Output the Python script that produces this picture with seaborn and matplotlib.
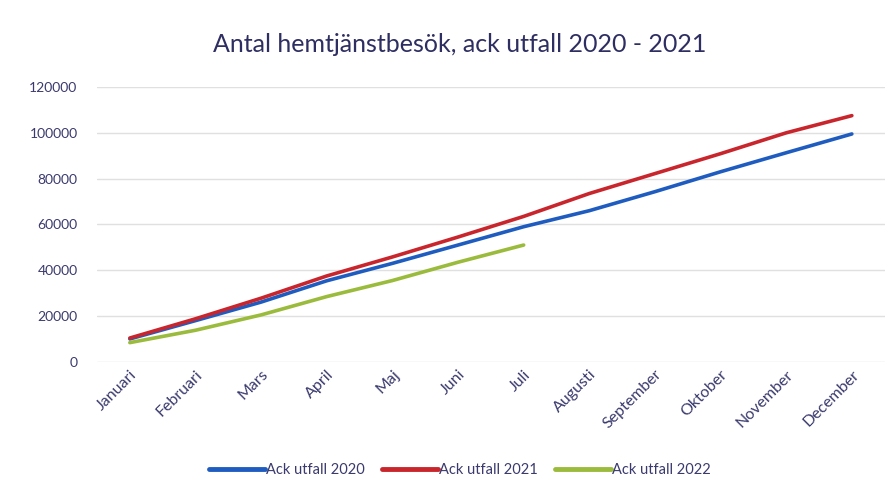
import matplotlib
matplotlib.use('Agg')
import matplotlib.pyplot as plt
import seaborn as sns
import pandas as pd

months = ['Januari', 'Februari', 'Mars', 'April', 'Maj', 'Juni', 'Juli',
          'Augusti', 'September', 'Oktober', 'November', 'December']
ack_2020 = [10000, 18000, 26100, 35400, 43000, 51000, 59000,
            66000, 74300, 83000, 91300, 99500]
ack_2021 = [10400, 18800, 27800, 37500, 45800, 54500, 63500,
            73500, 82200, 90900, 100000, 107500]
ack_2022 = [8400, 13800, 20500, 28500, 35500, 43500, 51000]
series_names = ['Ack utfall 2020', 'Ack utfall 2021', 'Ack utfall 2022']
colors = ['#1f5cc0', '#c8262c', '#9bbb3c']

rows = []
for name, vals in zip(series_names, [ack_2020, ack_2021, ack_2022]):
    for m, v in zip(months, vals):
        rows.append({'month': m, 'value': v, 'serie': name})
df = pd.DataFrame(rows)

sns.set_style('white')
plt.rcParams['font.family'] = ['Lato', 'DejaVu Sans']
text_col = '#3a3a6e'

fig = plt.figure(figsize=(8.9, 4.93), dpi=100)
ax = fig.add_axes([0.109, 0.266, 0.885, 0.5575])
sns.lineplot(data=df, x='month', y='value', hue='serie', palette=colors,
             linewidth=2.6, sort=False, ax=ax)

ax.set_xlim(-0.5, 11.5)
ax.set_ylim(0, 120000)
ax.set_yticks(range(0, 120001, 20000))
ax.grid(axis='y', color='#e0e0e0', linewidth=1)
ax.set_axisbelow(True)
sns.despine(ax=ax, left=True, bottom=True)
ax.tick_params(axis='both', length=0, colors=text_col, labelsize=10)
ax.tick_params(axis='x', labelsize=11.5, pad=4)
ax.tick_params(axis='y', pad=14)
plt.setp(ax.get_xticklabels(), rotation=45, ha='right', rotation_mode='anchor')
ax.set_xlabel('')
ax.set_ylabel('')

fig.text(0.517, 0.909, 'Antal hemtjänstbesök, ack utfall 2020 - 2021',
         ha='center', va='center', fontsize=18, color='#2e2e62')

handles, labels = ax.get_legend_handles_labels()
ax.legend(handles, labels, loc='center', bbox_to_anchor=(0.517, 0.047),
          bbox_transform=fig.transFigure, ncol=3, frameon=False,
          handlelength=3.8, handletextpad=0.1, columnspacing=1.2,
          fontsize=10.5, labelcolor=text_col)
for line in ax.get_legend().get_lines():
    line.set_linewidth(3.5)

fig.savefig('out.png', dpi=100)
